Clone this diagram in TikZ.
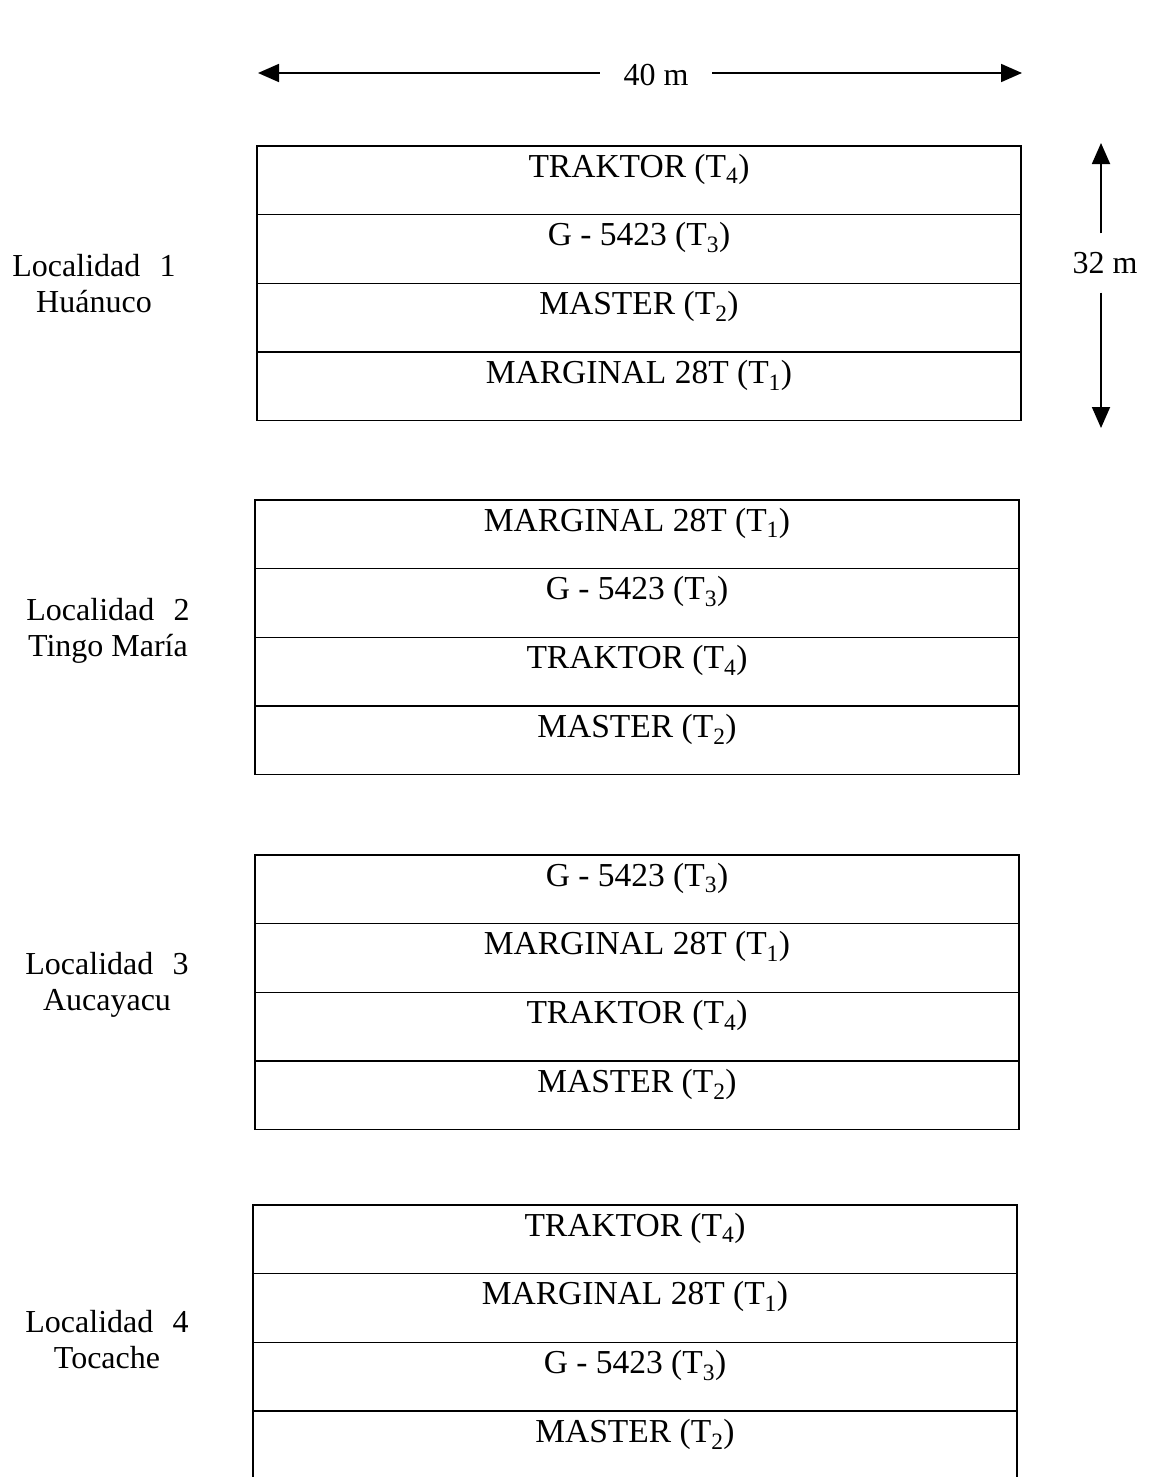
\documentclass[tikz,border=0pt]{standalone}
\usepackage{fontspec}
\setmainfont{Liberation Serif}
\usetikzlibrary{arrows.meta}
\newcommand\vTRAK{TRAKTOR (T\textsubscript{4})}
\newcommand\vGV{G - 5423 (T\textsubscript{3})}
\newcommand\vMAS{MASTER (T\textsubscript{2})}
\newcommand\vMAR{MARGINAL 28T (T\textsubscript{1})}
\tikzset{
  rowbox/.style={draw, line width=1.3pt, minimum width=764pt, minimum height=68.7pt, inner sep=0pt, outer sep=0pt, anchor=north west},
  rowtxt/.style={font=\fontsize{33.5}{38}\selectfont, anchor=base, inner sep=0pt},
  loctxt/.style={font=\fontsize{32}{36}\selectfont, align=center, inner sep=0pt},
  dimtxt/.style={font=\fontsize{32}{36}\selectfont, inner sep=0pt},
  dimline/.style={line width=1.8pt, -{Triangle[length=21pt,width=18pt]}},
}
\begin{document}
\begin{tikzpicture}[x=1pt,y=-1pt]
\useasboundingbox (0,0) rectangle (1149,1477);
\fill[white] (0,0) rectangle (1149,1477);

% width dimension
\node[dimtxt, minimum width=112pt] (w40) at (656,75) {40 m};
\coordinate (wl) at (258,73);
\coordinate (wr) at (1022,73);
\draw[dimline] (w40.west |- wl) -- (wl);
\draw[dimline] (w40.east |- wr) -- (wr);

% height dimension
\node[dimtxt, minimum height=59pt] (h32) at (1105,263) {32 m};
\coordinate (ht) at (1101,143);
\coordinate (hb) at (1101,428);
\draw[dimline] (h32.north -| ht) -- (ht);
\draw[dimline] (h32.south -| hb) -- (hb);

% blocks
\foreach \k/\bx/\by/\ra/\rb/\rc/\rd in {
  1/257/146/\vTRAK/\vGV/\vMAS/\vMAR,
  2/255/500/\vMAR/\vGV/\vTRAK/\vMAS,
  3/255/855/\vGV/\vMAR/\vTRAK/\vMAS,
  4/253/1205/\vTRAK/\vMAR/\vGV/\vMAS}{
  \node[rowbox] (b\k r1) at (\bx,\by) {};
  \node[rowbox] (b\k r2) at (b\k r1.south west) {};
  \node[rowbox] (b\k r3) at (b\k r2.south west) {};
  \node[rowbox] (b\k r4) at (b\k r3.south west) {};
  \node[rowtxt] (b\k t1) at ([yshift=-31pt]b\k r1.north) {\ra};
  \node[rowtxt] (b\k t2) at ([yshift=-31pt]b\k r2.north) {\rb};
  \node[rowtxt] (b\k t3) at ([yshift=-31pt]b\k r3.north) {\rc};
  \node[rowtxt] (b\k t4) at ([yshift=-31pt]b\k r4.north) {\rd};
}

% locality labels
\node[loctxt] (l1) at (94,284) {Localidad\hspace{0.35em} 1\\Huánuco};
\node[loctxt] (l2) at (108,631) {Localidad\hspace{0.35em} 2\\Tingo María};
\node[loctxt] (l3) at (107,985) {Localidad\hspace{0.35em} 3\\Aucayacu};
\node[loctxt] (l4) at (107,1340) {Localidad\hspace{0.35em} 4\\Tocache};
\end{tikzpicture}
\end{document}
